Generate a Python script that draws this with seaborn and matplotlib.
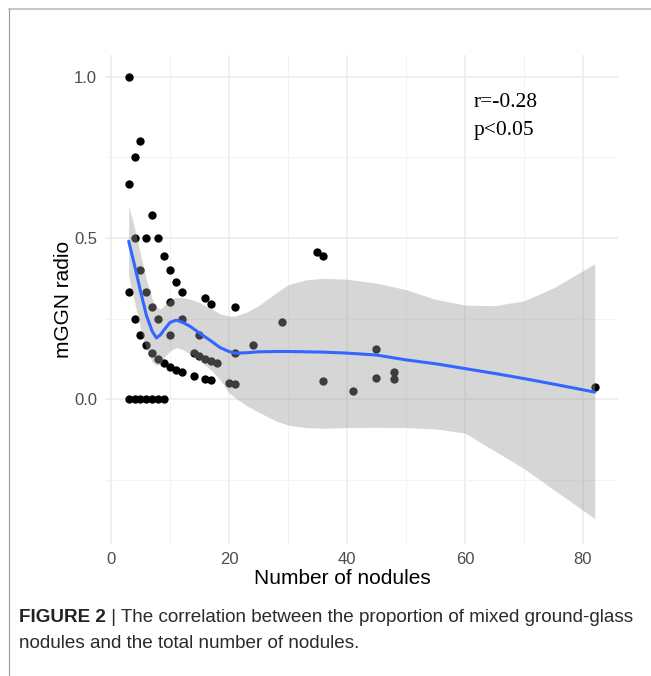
import numpy as np
import pandas as pd
import matplotlib
matplotlib.use("Agg")
import matplotlib.pyplot as plt
from matplotlib.lines import Line2D
import seaborn as sns

# number of nodules per patient and the mGGN proportion
nodules = [3, 3, 3, 3,
           4, 4, 4, 4,
           5, 5, 5, 5,
           6, 6, 6, 6,
           7, 7, 7, 7,
           8, 8, 8, 8,
           9, 9, 9,
           10, 10, 10, 10,
           11, 11,
           12, 12, 12,
           14, 14,
           15, 15,
           16, 16, 16,
           17, 17, 17,
           18,
           20,
           21, 21, 21,
           24, 29, 35,
           36, 36,
           41,
           45, 45,
           48, 48,
           82]
ratio = [1.0, 0.667, 0.333, 0.0,
         0.75, 0.5, 0.25, 0.0,
         0.8, 0.4, 0.2, 0.0,
         0.5, 0.333, 0.167, 0.0,
         0.571, 0.286, 0.143, 0.0,
         0.5, 0.25, 0.125, 0.0,
         0.444, 0.111, 0.0,
         0.4, 0.3, 0.2, 0.1,
         0.364, 0.091,
         0.333, 0.25, 0.083,
         0.143, 0.071,
         0.2, 0.133,
         0.3125, 0.125, 0.0625,
         0.294, 0.118, 0.059,
         0.111,
         0.05,
         0.286, 0.143, 0.048,
         0.167, 0.241, 0.457,
         0.444, 0.056,
         0.024,
         0.156, 0.067,
         0.083, 0.0625,
         0.037]

# loess smoother and its 95% band
smooth_x = [3, 4, 5, 6, 7, 7.7, 8.4, 9, 10, 11, 12, 13.5, 15, 17, 18.5, 20,
            21, 23, 25, 28, 30, 33, 36, 40, 45, 50, 55, 60, 65, 70, 75, 82]
smooth_fit = [0.49, 0.415, 0.335, 0.26, 0.21, 0.19, 0.2, 0.215, 0.238, 0.245,
              0.24, 0.225, 0.205, 0.18, 0.16, 0.148, 0.143, 0.144, 0.147,
              0.148, 0.148, 0.147, 0.146, 0.143, 0.137, 0.122, 0.11, 0.095,
              0.08, 0.064, 0.047, 0.022]
band_hi = [0.60, 0.53, 0.45, 0.37, 0.31, 0.285, 0.28, 0.29, 0.31, 0.315,
           0.315, 0.31, 0.30, 0.28, 0.265, 0.258, 0.258, 0.27, 0.29, 0.33,
           0.355, 0.37, 0.375, 0.372, 0.36, 0.34, 0.31, 0.292, 0.29, 0.305,
           0.345, 0.42]
band_lo = [0.38, 0.30, 0.22, 0.155, 0.115, 0.105, 0.11, 0.13, 0.15, 0.16,
           0.155, 0.14, 0.12, 0.09, 0.06, 0.02, 0.005, -0.02, -0.04, -0.068,
           -0.08, -0.088, -0.09, -0.088, -0.087, -0.088, -0.092, -0.105,
           -0.16, -0.215, -0.28, -0.37]

annot = ["r=-0.28", "p<0.05"]
x_label = "Number of nodules"
y_label = "mGGN radio"
caption_bold = "FIGURE 2"
caption_rest = " | The correlation between the proportion of mixed ground-glass"
caption_line2 = "nodules and the total number of nodules."

df = pd.DataFrame({"nodules": nodules, "ratio": ratio})
smooth = pd.DataFrame({"nodules": smooth_x, "fit": smooth_fit,
                       "lo": band_lo, "hi": band_hi})

sns.set_theme(style="white")
plt.rcParams["font.family"] = ["Liberation Sans", "DejaVu Sans"]

fig = plt.figure(figsize=(6.51, 6.76), dpi=100)
ax = fig.add_axes([105.4 / 651, 1 - 544 / 676, (618 - 105.4) / 651, (544 - 54.5) / 676])

sns.scatterplot(data=df, x="nodules", y="ratio", color="black", s=36,
                linewidth=0, ax=ax, zorder=2)
ax.fill_between(smooth["nodules"], smooth["lo"], smooth["hi"],
                color="#999999", alpha=0.4, linewidth=0, zorder=3)
sns.lineplot(data=smooth, x="nodules", y="fit", color="#3366FF",
             linewidth=2.2, ax=ax, zorder=4)

ax.set_xlim(-0.95, 85.95)
ax.set_ylim(-0.449, 1.069)
ax.set_xticks([0, 20, 40, 60, 80])
ax.set_xticks([10, 30, 50, 70], minor=True)
ax.set_yticks([0.0, 0.5, 1.0])
ax.set_yticklabels(["0.0", "0.5", "1.0"])
ax.set_yticks([-0.25, 0.25, 0.75], minor=True)
ax.grid(which="major", color="#ebebeb", linewidth=1.1)
ax.grid(which="minor", color="#f3f3f3", linewidth=0.7)
ax.set_axisbelow(True)
for sp in ax.spines.values():
    sp.set_visible(False)
ax.tick_params(which="both", length=0, labelsize=12, labelcolor="#4d4d4d", pad=6)
ax.set_xlabel(x_label, fontsize=15, color="black", labelpad=3)
ax.xaxis.set_label_coords((342 - 105.4) / 512.6, -0.052)
ax.set_ylabel(y_label, fontsize=15, color="black", labelpad=1)

ax.text(61.5, 0.92, annot[0], family="Liberation Serif", fontsize=15.5,
        va="center", ha="left", color="black")
ax.text(61.5, 0.833, annot[1], family="Liberation Serif", fontsize=15.5,
        va="center", ha="left", color="black")

# journal frame and caption
fig.add_artist(Line2D([9 / 651, 1], [1 - 9 / 676, 1 - 9 / 676], color="#c8c8c8", linewidth=1.5))
fig.add_artist(Line2D([9 / 651, 9 / 651], [0, 1 - 9 / 676], color="#9a9a9a", linewidth=0.8))

t1 = fig.text(19 / 651, 1 - 617 / 676, caption_bold, fontsize=13.6, fontweight="bold",
              color="#222222", va="center", ha="left")
fig.canvas.draw()
bb = t1.get_window_extent()
fig.text(bb.x1 / fig.bbox.width, 1 - 617 / 676, caption_rest, fontsize=13.6,
         color="#2a2a2a", va="center", ha="left")
fig.text(19 / 651, 1 - 643 / 676, caption_line2, fontsize=13.6,
         color="#2a2a2a", va="center", ha="left")

fig.savefig("out.png", dpi=100)
